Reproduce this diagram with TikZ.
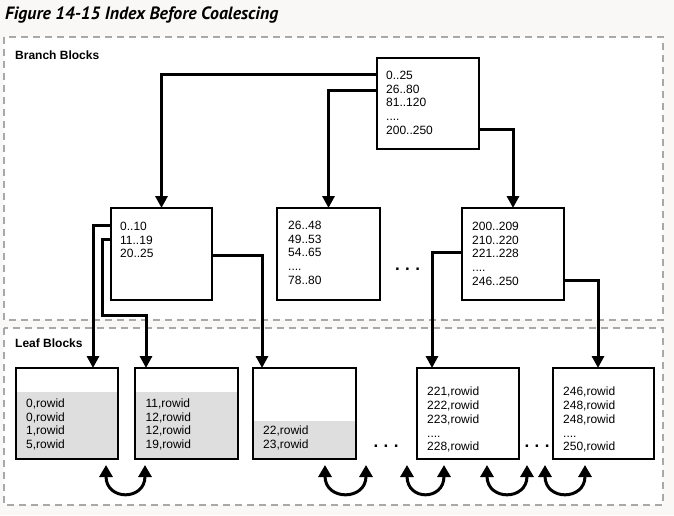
\documentclass[tikz,border=0pt]{standalone}
\usepackage{fontspec}
\setmainfont{Liberation Sans}
\newfontfamily\titlefont{PT Sans}
\usetikzlibrary{arrows.meta}
\definecolor{bgcol}{HTML}{F9F8F6}
\definecolor{leafgray}{HTML}{DEDEDE}
\definecolor{zonegray}{HTML}{A8A8A8}
\begin{document}
\begin{tikzpicture}[x=1pt,y=-1pt,
  conn/.style={line width=3pt, -{Triangle[width=12pt,length=12pt]}},
  twoway/.style={line width=3pt, {Triangle[width=13pt,length=12pt]}-{Triangle[width=13pt,length=12pt]}},
  blk/.style={draw, line width=2pt, fill=white, inner sep=0pt, outer sep=0pt, anchor=north west},
  grayfrom/.style={path picture={\fill[leafgray] ([yshift=-#1]path picture bounding box.north west) rectangle (path picture bounding box.south east);}},
  txt/.style={inner sep=0pt, anchor=north west, align=left, font=\fontsize{12}{13.7}\selectfont},
  lbl/.style={inner sep=0pt, anchor=north west, font=\bfseries\fontsize{12}{14}\selectfont},
  zone/.style={draw=zonegray, line width=2.5pt, dash pattern=on 7pt off 5pt, fill=white},
  dots/.style={inner sep=0pt, font=\bfseries\fontsize{17}{17}\selectfont},
  ]
\useasboundingbox (0,0) rectangle (674,515);
\fill[bgcol] (0,0) rectangle (674,515);
\node[font=\titlefont\bfseries\itshape\fontsize{17.8}{17.8}\selectfont, anchor=base west, inner sep=0pt] (title) at (5,19) {Figure 14-15 Index Before Coalescing};
\draw[zone] (4,37) rectangle (663,320);
\draw[zone] (4,328) rectangle (663,505);
\node[lbl] (branchlbl) at (15,51) {Branch Blocks};
\node[lbl] (leaflbl) at (15,339) {Leaf Blocks};

% branch blocks
\node[blk, minimum width=102pt, minimum height=91pt] (root) at (377,58) {};
\node[blk, minimum width=101pt, minimum height=92pt] (a) at (111,208) {};
\node[blk, minimum width=103pt, minimum height=92pt] (b) at (277,208) {};
\node[blk, minimum width=102pt, minimum height=92pt] (c) at (462,208) {};
\node[txt] (roott) at (386,71) {0..25\\26..80\\81..120\\....\\200..250};
\node[txt] (at) at (120,222) {0..10\\11..19\\20..25};
\node[txt] (bt) at (288,221) {26..48\\49..53\\54..65\\....\\78..80};
\node[txt] (ct) at (472,222) {200..209\\210..220\\221..228\\....\\246..250};
\node[dots] (dotsb) at (407.5,269) {.\hspace{5.4pt}.\hspace{5.4pt}.};

% leaf blocks
\node[blk, grayfrom=24pt, minimum width=102pt, minimum height=91pt] (l1) at (16,368) {};
\node[blk, grayfrom=24pt, minimum width=103pt, minimum height=91pt] (l2) at (135,368) {};
\node[blk, grayfrom=53pt, minimum width=103pt, minimum height=91pt] (l3) at (253,368) {};
\node[blk, minimum width=102pt, minimum height=91pt] (l4) at (417,368) {};
\node[blk, minimum width=101pt, minimum height=91pt] (l5) at (553,368) {};
\node[txt] (l1t) at (26,398.4) {0,rowid\\0,rowid\\1,rowid\\5,rowid};
\node[txt] (l2t) at (145.5,398.4) {11,rowid\\12,rowid\\12,rowid\\19,rowid};
\node[txt] (l3t) at (263,426) {22,rowid\\23,rowid};
\node[txt] (l4t) at (427,387) {221,rowid\\222,rowid\\223,rowid\\....\\228,rowid};
\node[txt] (l5t) at (563,387) {246,rowid\\248,rowid\\248,rowid\\....\\250,rowid};
\node[dots] (dotsl1) at (386,446) {.\hspace{5.4pt}.\hspace{5.4pt}.};
\node[dots] (dotsl2) at (537,446) {.\hspace{5.4pt}.\hspace{5.4pt}.};

% connectors
\coordinate (bendA) at (102,315);
\draw[conn] ([yshift=-16.5pt]root.north west) -| (a.north);
\draw[conn] ([yshift=-32pt]root.north west) -| (b.north);
\draw[conn] ([yshift=-71pt]root.north east) -| (c.north);
\draw[conn] ([yshift=-17pt]a.north west) -| ([xshift=77pt]l1.north west);
\draw[conn] ([yshift=-31pt]a.north west) -| (bendA) -| ([xshift=11pt]l2.north west);
\draw[conn] ([yshift=-47pt]a.north east) -| ([xshift=9pt]l3.north west);
\draw[conn] ([yshift=-44pt]c.north west) -| ([xshift=15pt]l4.north west);
\draw[conn] ([yshift=-72pt]c.north east) -| ([xshift=45pt]l5.north west);

% sibling links
\draw[twoway] ([shift={(-12pt,-6pt)}]l1.south east) .. controls +(0pt,-36pt) and +(0pt,-36pt) .. ([shift={(10pt,-6pt)}]l2.south west);
\draw[twoway] ([shift={(-31pt,-6pt)}]l3.south east) .. controls +(0pt,-36pt) and +(0pt,-36pt) .. ([shift={(10pt,-6pt)}]l3.south east);
\draw[twoway] ([shift={(-10pt,-6pt)}]l4.south west) .. controls +(0pt,-36pt) and +(0pt,-36pt) .. ([shift={(27pt,-6pt)}]l4.south west);
\draw[twoway] ([shift={(-32pt,-6pt)}]l4.south east) .. controls +(0pt,-36pt) and +(0pt,-36pt) .. ([shift={(8pt,-6pt)}]l4.south east);
\draw[twoway] ([shift={(-8pt,-6pt)}]l5.south west) .. controls +(0pt,-36pt) and +(0pt,-36pt) .. ([shift={(32pt,-6pt)}]l5.south west);
\end{tikzpicture}
\end{document}
